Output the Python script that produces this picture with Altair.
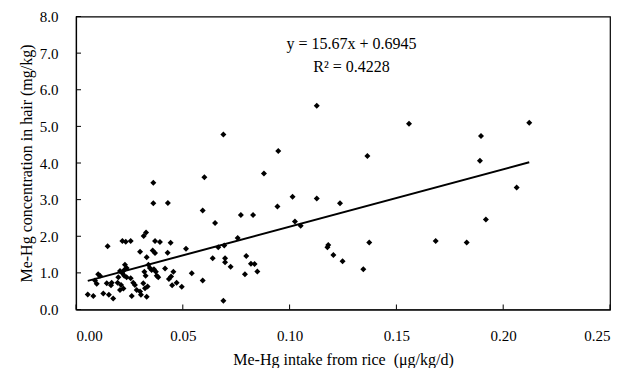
import altair as alt
import pandas as pd

# Scatter data (Me-Hg intake from rice, Me-Hg in hair)
intake = [
    0.0362, 0.0362, 0.0430, 0.0328, 0.0317, 0.0148, 0.0217, 0.0233, 0.0256, 0.0370,
    0.0393, 0.0443, 0.0300, 0.0359, 0.0370, 0.0331, 0.0229, 0.0237, 0.0226, 0.0104,
    0.0112, 0.0089, 0.0097, 0.0055, 0.0081, 0.0144, 0.0167, 0.0164, 0.0128, 0.0154,
    0.0174, 0.0198, 0.0195, 0.0211, 0.0206, 0.0217, 0.0226, 0.0237, 0.0206, 0.0222,
    0.0256, 0.0268, 0.0276, 0.0261, 0.0284, 0.0320, 0.0326, 0.0315, 0.0323, 0.0300,
    0.0304, 0.0339, 0.0346, 0.0354, 0.0365, 0.0374, 0.0378, 0.0385, 0.0417, 0.0445,
    0.0450, 0.0335, 0.0331,
    0.0601, 0.0593, 0.0772, 0.0829, 0.0651, 0.0429, 0.0515, 0.0757, 0.0666, 0.0694,
    0.0640, 0.0698, 0.0698, 0.0724, 0.0797, 0.0819, 0.0836, 0.0791, 0.0456, 0.0435,
    0.0471, 0.0495, 0.0542, 0.0593, 0.0690, 0.0690,
    0.0849, 0.1127, 0.0947, 0.0880, 0.1014, 0.1127, 0.1236, 0.0943, 0.1025, 0.1052,
    0.1181, 0.1177, 0.1205, 0.1248, 0.1345,
    0.1559, 0.1364, 0.1896, 0.1891, 0.1919, 0.1373, 0.1684, 0.1829,
    0.2122, 0.2063,
]
hair = [
    3.46, 2.90, 2.91, 2.10, 2.01, 1.73, 1.87, 1.85, 1.87, 1.87,
    1.84, 1.82, 1.58, 1.61, 1.54, 1.43, 1.22, 1.13, 1.08, 0.96,
    0.92, 0.79, 0.70, 0.41, 0.37, 0.72, 0.73, 0.66, 0.44, 0.40,
    0.30, 0.88, 0.73, 0.67, 1.05, 0.99, 0.92, 0.88, 0.53, 0.57,
    0.85, 0.73, 0.67, 0.37, 0.53, 1.03, 0.92, 0.72, 0.58, 0.49,
    0.40, 1.22, 1.13, 1.08, 1.10, 1.03, 0.92, 0.88, 1.12, 0.90,
    0.66, 0.63, 0.35,
    3.61, 2.70, 2.58, 2.58, 2.36, 1.55, 1.66, 1.95, 1.70, 1.75,
    1.40, 1.40, 1.29, 1.17, 1.46, 1.25, 1.24, 0.96, 1.03, 0.83,
    0.73, 0.62, 0.99, 0.79, 0.24, 4.78,
    1.04, 5.56, 4.33, 3.71, 3.08, 3.03, 2.90, 2.81, 2.40, 2.29,
    1.76, 1.70, 1.49, 1.32, 1.10,
    5.07, 4.19, 4.74, 4.06, 2.46, 1.83, 1.87, 1.83,
    5.10, 3.33,
]

# Regression
slope = 15.67
intercept = 0.6945
equation_lines = ["y = 15.67x + 0.6945", "R\u00b2 = 0.4228"]
equation_x = [0.129, 0.129]
equation_y = [7.25, 6.62]

x_ticks = [0.0, 0.05, 0.10, 0.15, 0.20, 0.25]
y_ticks = [0, 1, 2, 3, 4, 5, 6, 7, 8]

W, H = 534, 293
FONT = "Liberation Serif"

pts = pd.DataFrame({"x": intake, "y": hair})
x_lo, x_hi = min(intake), max(intake)
line_df = pd.DataFrame({"x": [x_lo, x_hi], "y": [slope * x_lo + intercept, slope * x_hi + intercept]})
eq_df = pd.DataFrame({"x": equation_x, "y": equation_y, "t": equation_lines})
xt_df = pd.DataFrame({"x": x_ticks})
yt_df = pd.DataFrame({"y": y_ticks})

xscale = alt.Scale(domain=[0, 0.25], nice=False, zero=False)
yscale = alt.Scale(domain=[0, 8], nice=False)

xaxis = alt.Axis(
    values=x_ticks, format=".2f", title="Me-Hg intake from rice\u00a0 (\u03bcg/kg/d)",
    grid=False, tickSize=0, labelPadding=19, titlePadding=8,
    domainColor="black", labelColor="black", titleColor="black",
    labelFontSize=15, titleFontSize=16, titleFontWeight="normal", labelFont=FONT, titleFont=FONT)
yaxis = alt.Axis(
    values=y_ticks, format=".1f", title="Me-Hg concentration in hair (mg/kg)",
    grid=False, tickSize=0, labelPadding=18, titlePadding=5,
    domainColor="black", labelColor="black", titleColor="black",
    labelFontSize=15, titleFontSize=16, titleFontWeight="normal", labelFont=FONT, titleFont=FONT)

points = alt.Chart(pts).mark_point(shape="diamond", filled=True, color="black", size=36, opacity=1).encode(
    x=alt.X("x:Q", scale=xscale, axis=xaxis),
    y=alt.Y("y:Q", scale=yscale, axis=yaxis),
)

reg = alt.Chart(line_df).mark_line(color="black", strokeWidth=2).encode(
    x=alt.X("x:Q", scale=xscale, axis=xaxis),
    y=alt.Y("y:Q", scale=yscale, axis=yaxis),
)

eq = alt.Chart(eq_df).mark_text(font=FONT, fontSize=16, color="black", align="center", baseline="middle").encode(
    x=alt.X("x:Q", scale=xscale, axis=xaxis),
    y=alt.Y("y:Q", scale=yscale, axis=yaxis),
    text="t:N",
)

xt = alt.Chart(xt_df).mark_rule(color="black", strokeWidth=1).encode(
    x=alt.X("x:Q", scale=xscale, axis=xaxis),
    y=alt.value(H),
    y2=alt.value(H - 5),
)

yt = alt.Chart(yt_df).mark_rule(color="black", strokeWidth=1).encode(
    y=alt.Y("y:Q", scale=yscale, axis=yaxis),
    x=alt.value(0),
    x2=alt.value(5),
)

chart = alt.layer(points, reg, eq, xt, yt).properties(
    width=W, height=H,
    autosize=alt.AutoSizeParams(type="none"),
    padding={"left": 68, "top": 8.5, "right": 6, "bottom": 58},
    background="white",
).configure_view(stroke="black", strokeWidth=1.2).configure_axis(domainWidth=1.2)

chart.save("out.html", embed_options={"renderer": "svg", "actions": False})
